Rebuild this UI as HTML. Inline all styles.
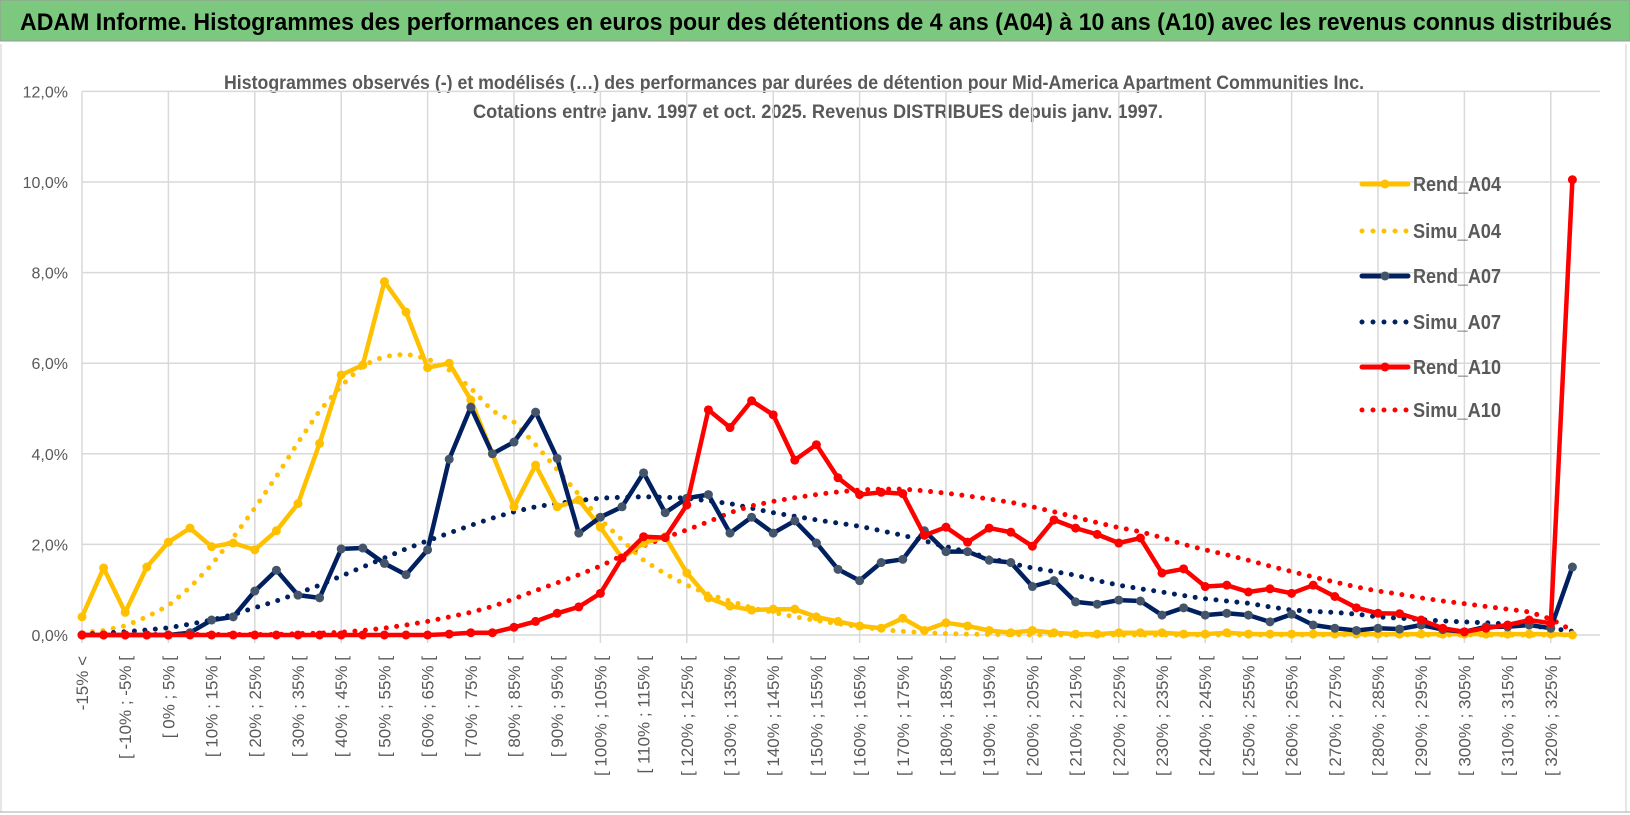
<!DOCTYPE html>
<html><head><meta charset="utf-8"><style>
body{margin:0;background:#fff;}
svg{display:block;font-family:"Liberation Sans",sans-serif;}
</style></head><body>
<svg id="chart" width="1630" height="815" viewBox="0 0 1630 815" xmlns="http://www.w3.org/2000/svg">
<rect x="0" y="0" width="1630" height="815" fill="#fff"/>
<rect x="0" y="0" width="1630" height="41" fill="#7DC87F" stroke="#999" stroke-width="1"/>
<text x="20" y="30" font-size="24" font-weight="bold" fill="#000" textLength="1592" lengthAdjust="spacingAndGlyphs">ADAM Informe. Histogrammes des performances en euros pour des détentions de 4 ans (A04) à 10 ans (A10) avec les revenus connus distribués</text>
<line x1="1" y1="44" x2="1" y2="812" stroke="#ccc"/>
<line x1="1626" y1="44" x2="1626" y2="812" stroke="#ccc"/>
<line x1="0" y1="812" x2="1630" y2="812" stroke="#aaa"/>
<text x="794" y="89" font-size="19" font-weight="bold" fill="#595959" text-anchor="middle" textLength="1140" lengthAdjust="spacingAndGlyphs">Histogrammes observés (-) et modélisés (…) des performances par durées de détention pour Mid-America  Apartment Communities Inc.</text>
<text x="818" y="118" font-size="19" font-weight="bold" fill="#595959" text-anchor="middle" textLength="690" lengthAdjust="spacingAndGlyphs">Cotations entre janv. 1997 et oct. 2025.  Revenus DISTRIBUES depuis janv. 1997.</text>
<g id="grid"></g><g id="axes"></g><g id="series"></g><g id="legend"></g>
</svg>
<script>
const categories = (function(){const c=["-15% <"];for(let v=-15;v<=325;v+=5){c.push("[ "+v+"% ; "+(v+5)+"% [");}return c;})();
const yTicks = [0,2,4,6,8,10,12];
const yTickLabels = ["0,0%","2,0%","4,0%","6,0%","8,0%","10,0%","12,0%"];
const rendA04 = [0.4,1.48,0.5,1.5,2.05,2.36,1.95,2.03,1.88,2.3,2.9,4.23,5.74,5.96,7.8,7.13,5.9,6.0,5.19,4.0,2.83,3.75,2.83,2.98,2.38,1.7,2.03,2.17,1.37,0.82,0.64,0.55,0.57,0.57,0.4,0.3,0.2,0.15,0.37,0.1,0.27,0.2,0.1,0.05,0.1,0.05,0.02,0.02,0.05,0.05,0.05,0.02,0.02,0.05,0.02,0.02,0.02,0.02,0.02,0.02,0.02,0.02,0.02,0.02,0.02,0.02,0.02,0.02,0.02,0.0];
const simuA04 = [0.05,0.1,0.2,0.4,0.65,1.05,1.55,2.15,2.8,3.5,4.25,4.95,5.5,5.95,6.15,6.2,6.1,5.85,5.45,4.95,4.7,4.2,3.65,3.1,2.55,2.1,1.65,1.35,1.1,0.9,0.75,0.6,0.5,0.4,0.32,0.25,0.18,0.12,0.08,0.05,0.03,0.02,0.01,0.01,0,0,0,0,0,0,0,0,0,0,0,0,0,0,0,0,0,0,0,0,0,0,0,0,0,0];
const rendA07 = [0,0,0,0,0,0.05,0.33,0.4,0.97,1.43,0.88,0.82,1.9,1.92,1.58,1.33,1.88,3.88,5.03,4.0,4.26,4.92,3.9,2.25,2.6,2.83,3.58,2.7,3.02,3.1,2.25,2.6,2.25,2.52,2.03,1.45,1.2,1.6,1.67,2.3,1.84,1.84,1.65,1.6,1.07,1.2,0.73,0.68,0.77,0.75,0.44,0.6,0.44,0.48,0.44,0.29,0.46,0.22,0.15,0.1,0.15,0.13,0.22,0.12,0.07,0.18,0.18,0.22,0.15,1.5];
const simuA07 = [0.02,0.04,0.07,0.11,0.16,0.24,0.33,0.45,0.6,0.75,0.92,1.1,1.3,1.5,1.7,1.9,2.08,2.25,2.42,2.58,2.72,2.83,2.9,2.97,3.02,3.04,3.05,3.04,3.02,2.96,2.9,2.8,2.7,2.62,2.54,2.47,2.4,2.3,2.2,2.08,1.95,1.83,1.7,1.58,1.48,1.4,1.32,1.2,1.1,1.02,0.95,0.87,0.8,0.75,0.7,0.62,0.55,0.52,0.5,0.46,0.4,0.37,0.34,0.31,0.29,0.27,0.24,0.21,0.15,0.08];
const rendA10 = [0,0,0,0,0,0,0,0,0,0,0,0,0,0,0,0,0,0.02,0.05,0.05,0.17,0.3,0.48,0.62,0.92,1.7,2.17,2.15,2.87,4.97,4.58,5.17,4.86,3.86,4.2,3.47,3.1,3.15,3.12,2.2,2.38,2.05,2.36,2.27,1.96,2.54,2.36,2.22,2.03,2.14,1.37,1.46,1.07,1.1,0.95,1.02,0.92,1.1,0.85,0.6,0.48,0.47,0.33,0.15,0.07,0.15,0.22,0.33,0.26,10.05];
const simuA10 = [0.01,0.01,0.01,0.01,0.01,0.01,0.01,0.01,0.01,0.01,0.03,0.04,0.06,0.1,0.15,0.22,0.3,0.4,0.5,0.63,0.8,0.98,1.15,1.33,1.52,1.75,1.97,2.15,2.32,2.5,2.7,2.85,2.95,3.03,3.1,3.16,3.2,3.22,3.22,3.18,3.13,3.07,3.0,2.93,2.83,2.72,2.6,2.48,2.37,2.28,2.15,2.0,1.88,1.77,1.65,1.52,1.4,1.28,1.17,1.06,0.97,0.9,0.82,0.75,0.69,0.63,0.57,0.51,0.35,0.1];
const seriesNames = ["Rend_A04","Simu_A04","Rend_A07","Simu_A07","Rend_A10","Simu_A10"];

const NS="http://www.w3.org/2000/svg";
const X0=82, DX=21.6, Y0=635, YPX=45.3;
function xs(i){return X0+i*DX;}
function ys(v){return Y0-v*YPX;}
function mk(tag,attrs,parent){const e=document.createElementNS(NS,tag);for(const k in attrs)e.setAttribute(k,attrs[k]);parent.appendChild(e);return e;}
const grid=document.getElementById('grid'),axes=document.getElementById('axes'),ser=document.getElementById('series'),leg=document.getElementById('legend');
const yTop=ys(12);
yTicks.forEach((t,k)=>{
  const l=mk('line',{x1:X0,x2:1600,y1:ys(t),y2:ys(t),stroke:'#d9d9d9','stroke-width':1.5},grid);
  
  
  const tx=mk('text',{x:68,y:ys(t)+6,'font-size':16,fill:'#595959','text-anchor':'end'},axes);
  tx.textContent=yTickLabels[k];
  
  
});
categories.forEach((c,i)=>{
  if(i%4===0){
    const l=mk('line',{x1:xs(i),x2:xs(i),y1:yTop,y2:Y0+8,stroke:'#d9d9d9','stroke-width':1.5},grid);
    
    
  }
  if(i%2===0){
    const x=xs(i)+6, y=656;
    const tx=mk('text',{x:x,y:y,'font-size':17,fill:'#595959','text-anchor':'end',transform:'rotate(-90 '+x+' '+y+')'},axes);
    tx.textContent=c;
    
    
  }
});
function path(vals){return vals.map((v,i)=>(i?'L':'M')+xs(i).toFixed(1)+' '+ys(v).toFixed(1)).join(' ');}
function solid(vals,color,mcolor,name){
  const p=mk('path',{d:path(vals),fill:'none',stroke:color,'stroke-width':4.5,'stroke-linejoin':'round'},ser);
  
  
  vals.forEach((v,i)=>{
    const c=mk('circle',{cx:xs(i),cy:ys(v),r:4.5,fill:mcolor},ser);
    
    
  });
}
function dotted(vals,color,name){
  const p=mk('path',{d:path(vals),fill:'none',stroke:color,'stroke-width':5,'stroke-linecap':'round','stroke-dasharray':'0 10.5'},ser);
  
  
}
dotted(simuA04,'#FFC000','simu-a04');
dotted(simuA07,'#002060','simu-a07');
dotted(simuA10,'#FF0000','simu-a10');
solid(rendA04,'#FFC000','#FFC000','rend-a04');
solid(rendA07,'#002060','#44546A','rend-a07');
solid(rendA10,'#FF0000','#FF0000','rend-a10');
const legY=[184,231,276,322,367,410];
const legCol=['#FFC000','#FFC000','#002060','#002060','#FF0000','#FF0000'];
seriesNames.forEach((n,k)=>{
  const y=legY[k];
  const g=mk('g',{},leg);
  
  
  if(k%2===0){
    mk('line',{x1:1362,x2:1408,y1:y,y2:y,stroke:legCol[k],'stroke-width':5,'stroke-linecap':'round'},g);
    mk('circle',{cx:1385,cy:y,r:4.5,fill:k===2?'#44546A':legCol[k]},g);
  } else {
    mk('line',{x1:1362,x2:1410,y1:y,y2:y,stroke:legCol[k],'stroke-width':5,'stroke-linecap':'round','stroke-dasharray':'0 11'},g);
  }
  const t=mk('text',{x:1413,y:y+7,'font-size':20,'font-weight':'bold',fill:'#595959',textLength:88,lengthAdjust:'spacingAndGlyphs'},g);
  t.textContent=n;
});
</script>
</body></html>
